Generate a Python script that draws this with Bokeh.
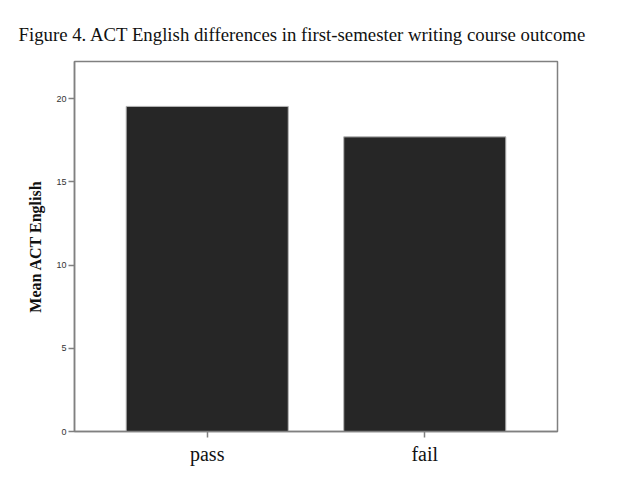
from bokeh.plotting import figure
from bokeh.models import FactorRange, Range1d, ColumnDataSource, Title
from bokeh.embed import file_html
from bokeh.resources import INLINE

categories = ["pass", "fail"]
means = [19.54, 17.71]
y_ticks = [0, 5, 10, 15, 20]
title_text = "Figure 4. ACT English differences in first-semester writing course outcome"
y_label = "Mean ACT English"

src = ColumnDataSource(data=dict(cat=categories, mean=means))

p = figure(width=611, height=473,
           x_range=FactorRange(factors=categories, range_padding=0.11, range_padding_units="absolute"),
           y_range=Range1d(0, 22.24),
           output_backend="svg", toolbar_location=None,
           min_border_left=74, min_border_right=54, min_border_bottom=42, min_border_top=61,
           title=None)

t = Title(text=title_text, align="left", offset=-56, standoff=33,
          text_font="Liberation Serif", text_font_size="18.8px", text_font_style="normal",
          text_color="#111111")
p.add_layout(t, "above")

p.vbar(x="cat", top="mean", width=0.745, source=src,
       fill_color="#262626", line_color="#b5b5b5", line_width=1)

p.xgrid.grid_line_color = None
p.ygrid.grid_line_color = None
p.outline_line_color = "#808080"
p.outline_line_width = 1.5
p.background_fill_color = "white"
p.border_fill_color = "white"

p.yaxis.ticker = y_ticks
p.yaxis.axis_label = y_label
p.yaxis.axis_label_text_font = "Liberation Serif"
p.yaxis.axis_label_text_font_style = "bold"
p.yaxis.axis_label_text_font_size = "16px"
p.yaxis.axis_label_text_color = "#111111"
p.yaxis.axis_label_standoff = 9
p.yaxis.major_label_text_font = "Liberation Sans"
p.yaxis.major_label_text_font_size = "9px"
p.yaxis.major_label_text_color = "#333333"
p.yaxis.major_label_standoff = 2
p.yaxis.major_tick_out = 6
p.yaxis.major_tick_in = 0
p.yaxis.minor_tick_line_color = None

p.xaxis.major_label_text_font = "Liberation Serif"
p.xaxis.major_label_text_font_size = "20px"
p.xaxis.major_label_text_color = "#111111"
p.xaxis.major_label_standoff = 5
p.xaxis.major_tick_out = 6
p.xaxis.major_tick_in = 0

for ax in (p.xaxis, p.yaxis):
    ax.axis_line_color = "#808080"
    ax.axis_line_width = 1.5
    ax.major_tick_line_color = "#808080"
    ax.major_tick_line_width = 1.5

open("out.html", "w").write(file_html(p, INLINE))
